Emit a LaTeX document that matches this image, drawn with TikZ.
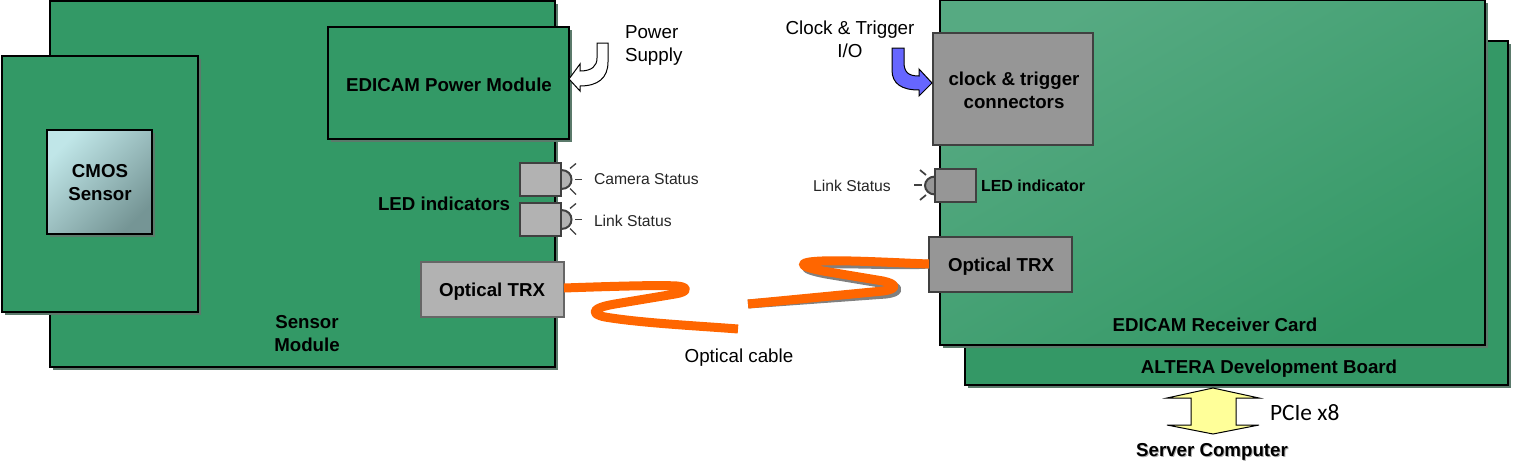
\documentclass[tikz,border=0pt]{standalone}
\usepackage{fontspec}
\setmainfont{Liberation Sans}
\newfontfamily\pciefont{Carlito}
\usetikzlibrary{shadows,calc}
\definecolor{boardgreen}{HTML}{339966}
\definecolor{boardlight}{HTML}{56AA82}
\definecolor{boardmid}{HTML}{42A073}
\definecolor{boarddark}{HTML}{349866}
\definecolor{shadowgreen}{HTML}{5B7A6B}
\definecolor{partgrey}{HTML}{B2B2B2}
\definecolor{darkgrey}{HTML}{969696}
\definecolor{edgegrey}{HTML}{404040}
\definecolor{fiber}{HTML}{FF6600}
\definecolor{clockblue}{HTML}{6666FF}
\definecolor{pcieyellow}{HTML}{FFFF99}
\definecolor{sensorlight}{HTML}{C0E6E8}
\definecolor{sensormid}{HTML}{93ADAE}
\definecolor{sensordark}{HTML}{759595}
\tikzset{
  x=1pt,y=-1pt,
  every node/.style={inner sep=0pt,outer sep=0pt},
  solidshadow/.style={drop shadow={shadow xshift=3pt,shadow yshift=-3pt,opacity=1,fill=shadowgreen}},
  board/.style={draw=black,line width=2.4pt,fill=boardgreen,anchor=north west,solidshadow},
  gradboard/.style={board,top color=boardlight,middle color=boardmid,bottom color=boarddark,shading angle=30},
  part/.style={draw=edgegrey,line width=2.2pt,fill=partgrey,anchor=north west},
  darkpart/.style={part,fill=darkgrey},
  boldlabel/.style={font=\fontsize{18.7}{23}\selectfont\bfseries,align=center,text=black},
  smallbold/.style={font=\fontsize{16}{18}\selectfont\bfseries,text=black,anchor=west},
  plainlabel/.style={font=\fontsize{18.8}{23}\selectfont,align=center,text=black},
  statuslabel/.style={font=\fontsize{15.7}{18}\selectfont,text=black!85},
  ledrays/.style={draw=edgegrey,line width=1.3pt},
  dome/.style={draw=edgegrey,line width=2pt,fill=partgrey},
  cable/.style={draw=fiber,line width=9pt,line join=round},
  cableshadow/.style={draw=gray,line width=9pt,line join=round},
  flowarrow/.style={draw=black,line width=1pt,line join=miter}
}
\begin{document}
\begin{tikzpicture}
\useasboundingbox (0,0) rectangle (1516,471);

% Sensor module and camera head
\node[board,minimum width=505pt,minimum height=366pt] (sensor) at (50,1) {};
\node[board,minimum width=196pt,minimum height=256pt] (head) at (2,56) {};
\node[draw=black,line width=2.4pt,anchor=north west,minimum width=105pt,minimum height=104pt,
      top color=sensorlight,middle color=sensormid,bottom color=sensordark,shading angle=45,solidshadow] (cmos) at (47,130) {};
\node[board,minimum width=241pt,minimum height=112pt] (power) at (328,27) {};

% LED indicators on the sensor module
\foreach \ly in {179.5,219.5}{
  \draw[dome] (561,\ly-9.5) .. controls (568,\ly-9.5) and (571.5,\ly-5) .. (571.5,\ly)
    .. controls (571.5,\ly+5) and (568,\ly+9.5) .. (561,\ly+9.5);
  \draw[ledrays] (575,\ly) -- (582,\ly);
  \draw[ledrays] (570,\ly-11) -- (576,\ly-16);
  \draw[ledrays] (570,\ly+9) -- (576,\ly+15);
}
\node[part,minimum width=41pt,minimum height=33pt] (ledcam) at (520,163) {};
\node[part,minimum width=41pt,minimum height=33pt] (ledlink) at (520,203) {};
\node[part,fill=partgrey,draw=edgegrey!80!white,minimum width=143pt,minimum height=55pt] (trxa) at (421,262) {};

% Receiver card on the development board
\node[board,fill=boarddark,minimum width=543pt,minimum height=344pt] (altera) at (965,41) {};
\node[gradboard,minimum width=545pt,minimum height=345pt] (receiver) at (940,0) {};
\node[darkpart,minimum width=160pt,minimum height=112pt] (clock) at (933,33) {};
\draw[dome,fill=darkgrey] (935,176.5) .. controls (929,176.5) and (925,181) .. (925,185.5)
  .. controls (925,190) and (929,194.5) .. (935,194.5);
\node[darkpart,minimum width=41pt,minimum height=33pt] (ledrx) at (935,169) {};
\draw[ledrays,line width=1.7pt] (914,185) -- (922,185);
\draw[ledrays,line width=1.7pt] (920,170) -- (926,175);
\draw[ledrays,line width=1.7pt] (920,200) -- (926,195);
\node[darkpart,minimum width=143pt,minimum height=55pt] (trxb) at (929,237) {};

% Optical cable, in two pieces with a gap between them
\coordinate (cablea) at (738,329);
\coordinate (cableb) at (748,304);
\draw[cable] (trxa.east|-0,288) .. controls (620,286) and (660,285) .. (677,286)
  .. controls (689,287) and (688,292) .. (675,294)
  -- (615,304) .. controls (591,308) and (590,314) .. (605,317)
  .. controls (640,323) and (700,326) .. (cablea);
\draw[cableshadow,shift={(3,3)}] (cableb) -- (883,291)
  .. controls (898,289) and (897,284) .. (883,281)
  -- (823,271) .. controls (797,266) and (797,262) .. (822,261)
  .. controls (850,260) and (900,263) .. (trxb.west|-0,261);
\draw[cable] (cableb) -- (883,291)
  .. controls (898,289) and (897,284) .. (883,281)
  -- (823,271) .. controls (797,266) and (797,262) .. (822,261)
  .. controls (850,260) and (900,263) .. (trxb.west|-0,264);

% Power feed into the power module
\coordinate (ptip) at (569,79);
\draw[flowarrow,fill=white] (597,43) -- (608,43) -- (608,62)
  .. controls (608,78) and (598,86) .. (580,86) -- (580,91) -- (ptip) -- (580,64) -- (580,71)
  .. controls (592,71) and (597,66) .. (597,58) -- cycle;

% Clock and trigger feed into the connector block
\coordinate (ctip) at (932,83);
\draw[flowarrow,fill=clockblue] (892,48) -- (904,48) -- (904,62)
  .. controls (904,72) and (908,76) .. (919,76) -- (919,69) -- (ctip) -- (919,96) -- (919,90)
  .. controls (902,90) and (892,84) .. (892,70) -- cycle;

% PCIe link below the development board
\coordinate (pcietop) at (1213,388);
\coordinate (pciebot) at (1213,434);
\draw[flowarrow,fill=pcieyellow] (pcietop) -- (1259,398) -- (1236,398) -- (1236,425) -- (1259,425)
  -- (pciebot) -- (1167,425) -- (1191,425) -- (1191,398) -- (1167,398) -- cycle;

% Labels
\node[boldlabel] (lcmos) at (100,182.5) {CMOS\\Sensor};
\node[boldlabel] (lsensor) at (307,334) {Sensor\\Module};
\node[boldlabel] (lpower) at (449,85) {EDICAM Power Module};
\node[boldlabel] (lleds) at (444,204) {LED indicators};
\node[boldlabel] (ltrxa) at (492,291.5) {Optical TRX};
\node[plainlabel,align=left,anchor=west] (lsupply) at (625,45.5) {Power\\Supply};
\node[statuslabel,anchor=west] (lcam) at (594,179.5) {Camera Status};
\node[statuslabel,anchor=west] (llinka) at (594,220.5) {Link Status};
\node[plainlabel] (lcable) at (739,358) {Optical cable};
\node[plainlabel] (lclockio) at (850,39.5) {Clock \& Trigger\\I/O};
\node[boldlabel] (lclock) at (1014,90) {clock \& trigger\\connectors};
\node[statuslabel] (llinkb) at (852,185.5) {Link Status};
\node[smallbold] (lledrx) at (981,185.5) {LED indicator};
\node[boldlabel] (ltrxb) at (1001,266.5) {Optical TRX};
\node[boldlabel] (lreceiver) at (1215,325) {EDICAM Receiver Card};
\node[boldlabel] (laltera) at (1269,368.5) {ALTERA Development Board};
\node[font=\fontsize{23.4}{26}\selectfont\pciefont,anchor=west] (lpcie) at (1270,413) {PCIe x8};
\node[boldlabel,text=black!45,opacity=.7] (lservershadow) at (1213,453) {Server Computer};
\node[boldlabel] (lserver) at (1212,452) {Server Computer};
\end{tikzpicture}
\end{document}
